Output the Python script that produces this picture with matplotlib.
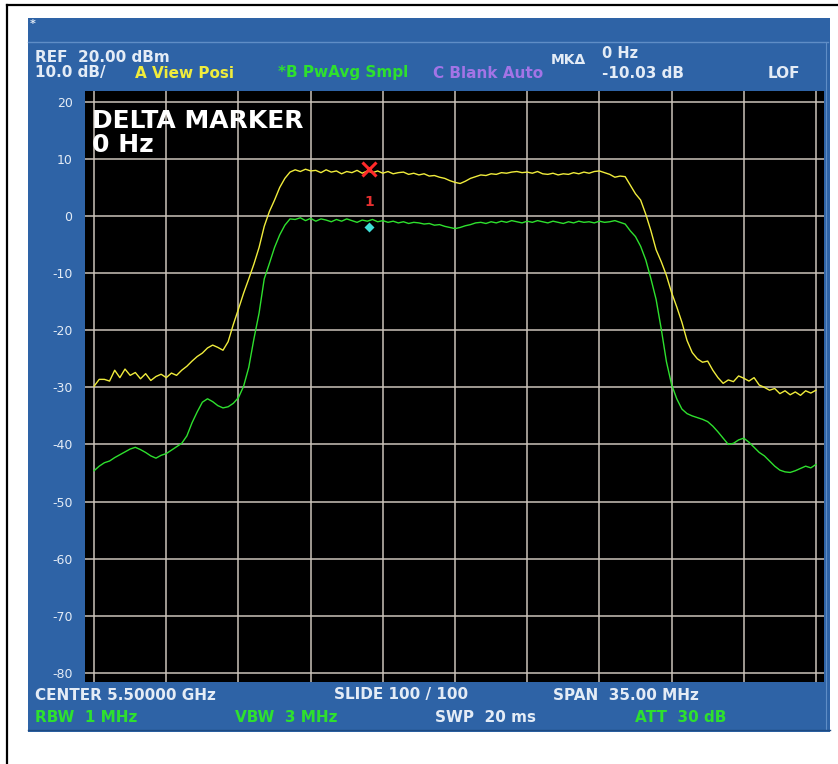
import matplotlib
matplotlib.use("Agg")
import matplotlib.pyplot as plt
from matplotlib.patches import Rectangle
import numpy as np

# Sweep points, offset from 5.50000 GHz centre (MHz)
freq_mhz = [
    -17.50, -17.25, -17.00, -16.75, -16.50, -16.25, -16.00, -15.75, -15.50, -15.25,
    -15.00, -14.75, -14.50, -14.25, -14.00, -13.75, -13.50, -13.25, -13.00, -12.75,
    -12.50, -12.25, -12.00, -11.75, -11.50, -11.25, -11.00, -10.75, -10.50, -10.25,
    -10.00, -9.75, -9.50, -9.25, -9.00, -8.75, -8.50, -8.25, -8.00, -7.75,
    -7.50, -7.25, -7.00, -6.75, -6.50, -6.25, -6.00, -5.75, -5.50, -5.25,
    -5.00, -4.75, -4.50, -4.25, -4.00, -3.75, -3.50, -3.25, -3.00, -2.75,
    -2.50, -2.25, -2.00, -1.75, -1.50, -1.25, -1.00, -0.75, -0.50, -0.25,
    0.00, 0.25, 0.50, 0.75, 1.00, 1.25, 1.50, 1.75, 2.00, 2.25,
    2.50, 2.75, 3.00, 3.25, 3.50, 3.75, 4.00, 4.25, 4.50, 4.75,
    5.00, 5.25, 5.50, 5.75, 6.00, 6.25, 6.50, 6.75, 7.00, 7.25,
    7.50, 7.75, 8.00, 8.25, 8.50, 8.75, 9.00, 9.25, 9.50, 9.75,
    10.00, 10.25, 10.50, 10.75, 11.00, 11.25, 11.50, 11.75, 12.00, 12.25,
    12.50, 12.75, 13.00, 13.25, 13.50, 13.75, 14.00, 14.25, 14.50, 14.75,
    15.00, 15.25, 15.50, 15.75, 16.00, 16.25, 16.50, 16.75, 17.00, 17.25,
    17.50,
]

# Trace A (View Posi), dBm
trace_a = [
    -29.8, -28.6, -28.6, -28.9, -27.0, -28.3, -26.8, -27.9, -27.4, -28.5,
    -27.6, -28.8, -28.1, -27.7, -28.3, -27.5, -27.9, -27.0, -26.3, -25.4,
    -24.6, -24.0, -23.1, -22.6, -23.0, -23.5, -22.0, -19.0, -16.3, -13.5,
    -11.0, -8.4, -5.5, -1.8, 0.8, 2.8, 5.0, 6.6, 7.7, 8.1,
    7.8, 8.2, 7.9, 8.0, 7.6, 8.1, 7.7, 7.9, 7.4, 7.8,
    7.6, 8.0, 7.5, 7.9, 7.6, 7.9, 7.5, 7.8, 7.4, 7.6,
    7.7, 7.3, 7.5, 7.2, 7.4, 7.0, 7.1, 6.8, 6.6, 6.2,
    5.9, 5.7, 6.1, 6.6, 6.9, 7.2, 7.1, 7.4, 7.3, 7.6,
    7.5, 7.7, 7.8, 7.6, 7.7, 7.5, 7.8, 7.4, 7.3, 7.5,
    7.2, 7.4, 7.3, 7.6, 7.4, 7.7, 7.5, 7.8, 7.9, 7.6,
    7.3, 6.8, 7.0, 6.9, 5.4, 3.9, 2.8, 0.3, -2.6, -5.9,
    -8.0, -10.4, -13.4, -15.9, -18.6, -21.8, -23.9, -25.0, -25.6, -25.4,
    -27.0, -28.3, -29.3, -28.7, -29.0, -28.0, -28.4, -28.9, -28.3, -29.6,
    -30.0, -30.5, -30.2, -31.1, -30.6, -31.3, -30.8, -31.4, -30.6, -31.0,
    -30.5,
]

# Trace B (PwAvg Smpl), dBm
trace_b = [
    -44.6, -43.8, -43.2, -42.9, -42.3, -41.8, -41.3, -40.8, -40.5, -40.9,
    -41.4, -42.0, -42.4, -41.9, -41.6, -41.0, -40.4, -39.8, -38.5, -36.2,
    -34.3, -32.6, -32.0, -32.5, -33.2, -33.6, -33.4, -32.8, -31.8, -29.8,
    -26.5, -21.5, -17.0, -11.0, -8.3, -5.5, -3.3, -1.6, -0.5, -0.6,
    -0.3, -0.8, -0.4, -0.9, -0.5, -0.7, -1.0, -0.6, -0.9, -0.5,
    -0.8, -1.1, -0.7, -0.9, -0.6, -1.0, -0.8, -1.1, -0.9, -1.2,
    -1.0, -1.3, -1.1, -1.2, -1.4, -1.3, -1.6, -1.5, -1.8, -2.0,
    -2.2, -2.0, -1.7, -1.5, -1.2, -1.1, -1.3, -1.0, -1.2, -0.9,
    -1.1, -0.8, -1.0, -1.2, -0.9, -1.1, -0.8, -1.0, -1.2, -0.9,
    -1.1, -1.3, -1.0, -1.2, -0.9, -1.1, -1.0, -1.2, -0.9, -1.1,
    -1.0, -0.8, -1.1, -1.4, -2.6, -3.6, -5.3, -7.7, -11.0, -14.6,
    -19.8, -25.5, -29.5, -32.0, -33.8, -34.6, -35.0, -35.3, -35.6, -36.0,
    -36.8, -37.8, -38.9, -40.0, -39.8, -39.2, -38.9, -39.6, -40.5, -41.4,
    -42.0, -42.9, -43.8, -44.5, -44.8, -44.9, -44.6, -44.2, -43.8, -44.1,
    -43.5,
]

# delta marker
marker_freq = -4.16
marker_a = 8.3
marker_b = -2.0
marker_label = "1"

div_mhz = [-17.5, -14.0, -10.5, -7.0, -3.5, 0.0, 3.5, 7.0, 10.5, 14.0, 17.5]
db_levels = [20, 10, 0, -10, -20, -30, -40, -50, -60, -70, -80]
db_labels = ["20", "10", "0", "-10", "-20", "-30", "-40", "-50", "-60", "-70", "-80"]

W, H = 838, 764
BLUE = "#2e63a6"
WHITE_TXT = "#e4ecf6"
YELLOW = "#f0ec3c"
GREEN = "#2ee02e"
PURPLE = "#a374e6"
FONT = "DejaVu Sans"

fig = plt.figure(figsize=(W / 100, H / 100), dpi=100)
fig.patch.set_facecolor("white")

# background layer in pixel coordinates
bg = fig.add_axes([0, 0, 1, 1])
bg.set_xlim(0, W)
bg.set_ylim(H, 0)
bg.axis("off")
bg.plot([7, 7], [5, H], color="black", lw=1.6)
bg.plot([7, W], [5, 5], color="black", lw=1.6)
bg.add_patch(Rectangle((28, 18), 802, 714, facecolor=BLUE, edgecolor="none"))
bg.plot([28, 828], [42, 42], color="#5f8dc6", lw=1.0)
bg.plot([826, 826], [42, 730], color="#5f8dc6", lw=0.8)
bg.plot([28, 830], [730, 730], color="#1d4a82", lw=1.0)


def hdr(x, y, s, color=WHITE_TXT, size=11):
    bg.text(x, y, s, color=color, fontsize=size, fontweight="bold",
            family=FONT, ha="left", va="center")


hdr(30, 24, "*", size=8)
hdr(35, 57, "REF  20.00 dBm")
hdr(35, 73, "10.0 dB/")
hdr(135, 73, "A View Posi", YELLOW)
hdr(278, 73, "*B PwAvg Smpl", GREEN)
hdr(433, 73, "C Blank Auto", PURPLE)
hdr(551, 60, "MKΔ", size=10)
hdr(602, 54, "0 Hz", size=10.5)
hdr(602, 74, "-10.03 dB")
hdr(768, 74, "LOF")
hdr(35, 695, "CENTER 5.50000 GHz")
hdr(334, 695, "SLIDE 100 / 100")
hdr(553, 695, "SPAN  35.00 MHz")
hdr(35, 718, "RBW  1 MHz", GREEN)
hdr(235, 718, "VBW  3 MHz", GREEN)
hdr(435, 718, "SWP  20 ms")
hdr(635, 718, "ATT  30 dB", GREEN)

# trace display
left, right, top, bottom = 85, 824, 91, 682
ax = fig.add_axes([left / W, 1 - bottom / H, (right - left) / W, (bottom - top) / H])
ax.set_facecolor("black")
ax.set_xlim(-17.94, 17.89)
ax.set_ylim(-81.6, 21.9)
for s in ax.spines.values():
    s.set_visible(False)
ax.set_xticks(div_mhz)
ax.set_xticklabels([])
ax.set_yticks(db_levels)
ax.set_yticklabels(db_labels, color=WHITE_TXT, fontsize=9, family=FONT)
ax.tick_params(length=0, pad=9)
ax.grid(True, color="#cbc3ba", lw=1.1)
ax.set_axisbelow(True)

ax.plot(freq_mhz, trace_a, color=YELLOW, lw=1.0)
ax.plot(freq_mhz, trace_b, color=GREEN, lw=1.0)

ax.plot([marker_freq], [marker_a], marker="x", color="#ff2a2a", ms=10, mew=2.2)
ax.plot([marker_freq], [marker_b], marker="D", color="#3fe0d8", ms=5.5, mec="none")
ax.text(marker_freq, 2.4, marker_label, color="#e63030", fontsize=10,
        fontweight="bold", ha="center", va="center", family=FONT)

ax.text(0.01, 0.97, "DELTA MARKER\n0 Hz", transform=ax.transAxes, color="white",
        fontsize=18, fontweight="bold", family=FONT, ha="left", va="top",
        linespacing=1.0)

fig.savefig("out.png", dpi=100, facecolor=fig.get_facecolor())
